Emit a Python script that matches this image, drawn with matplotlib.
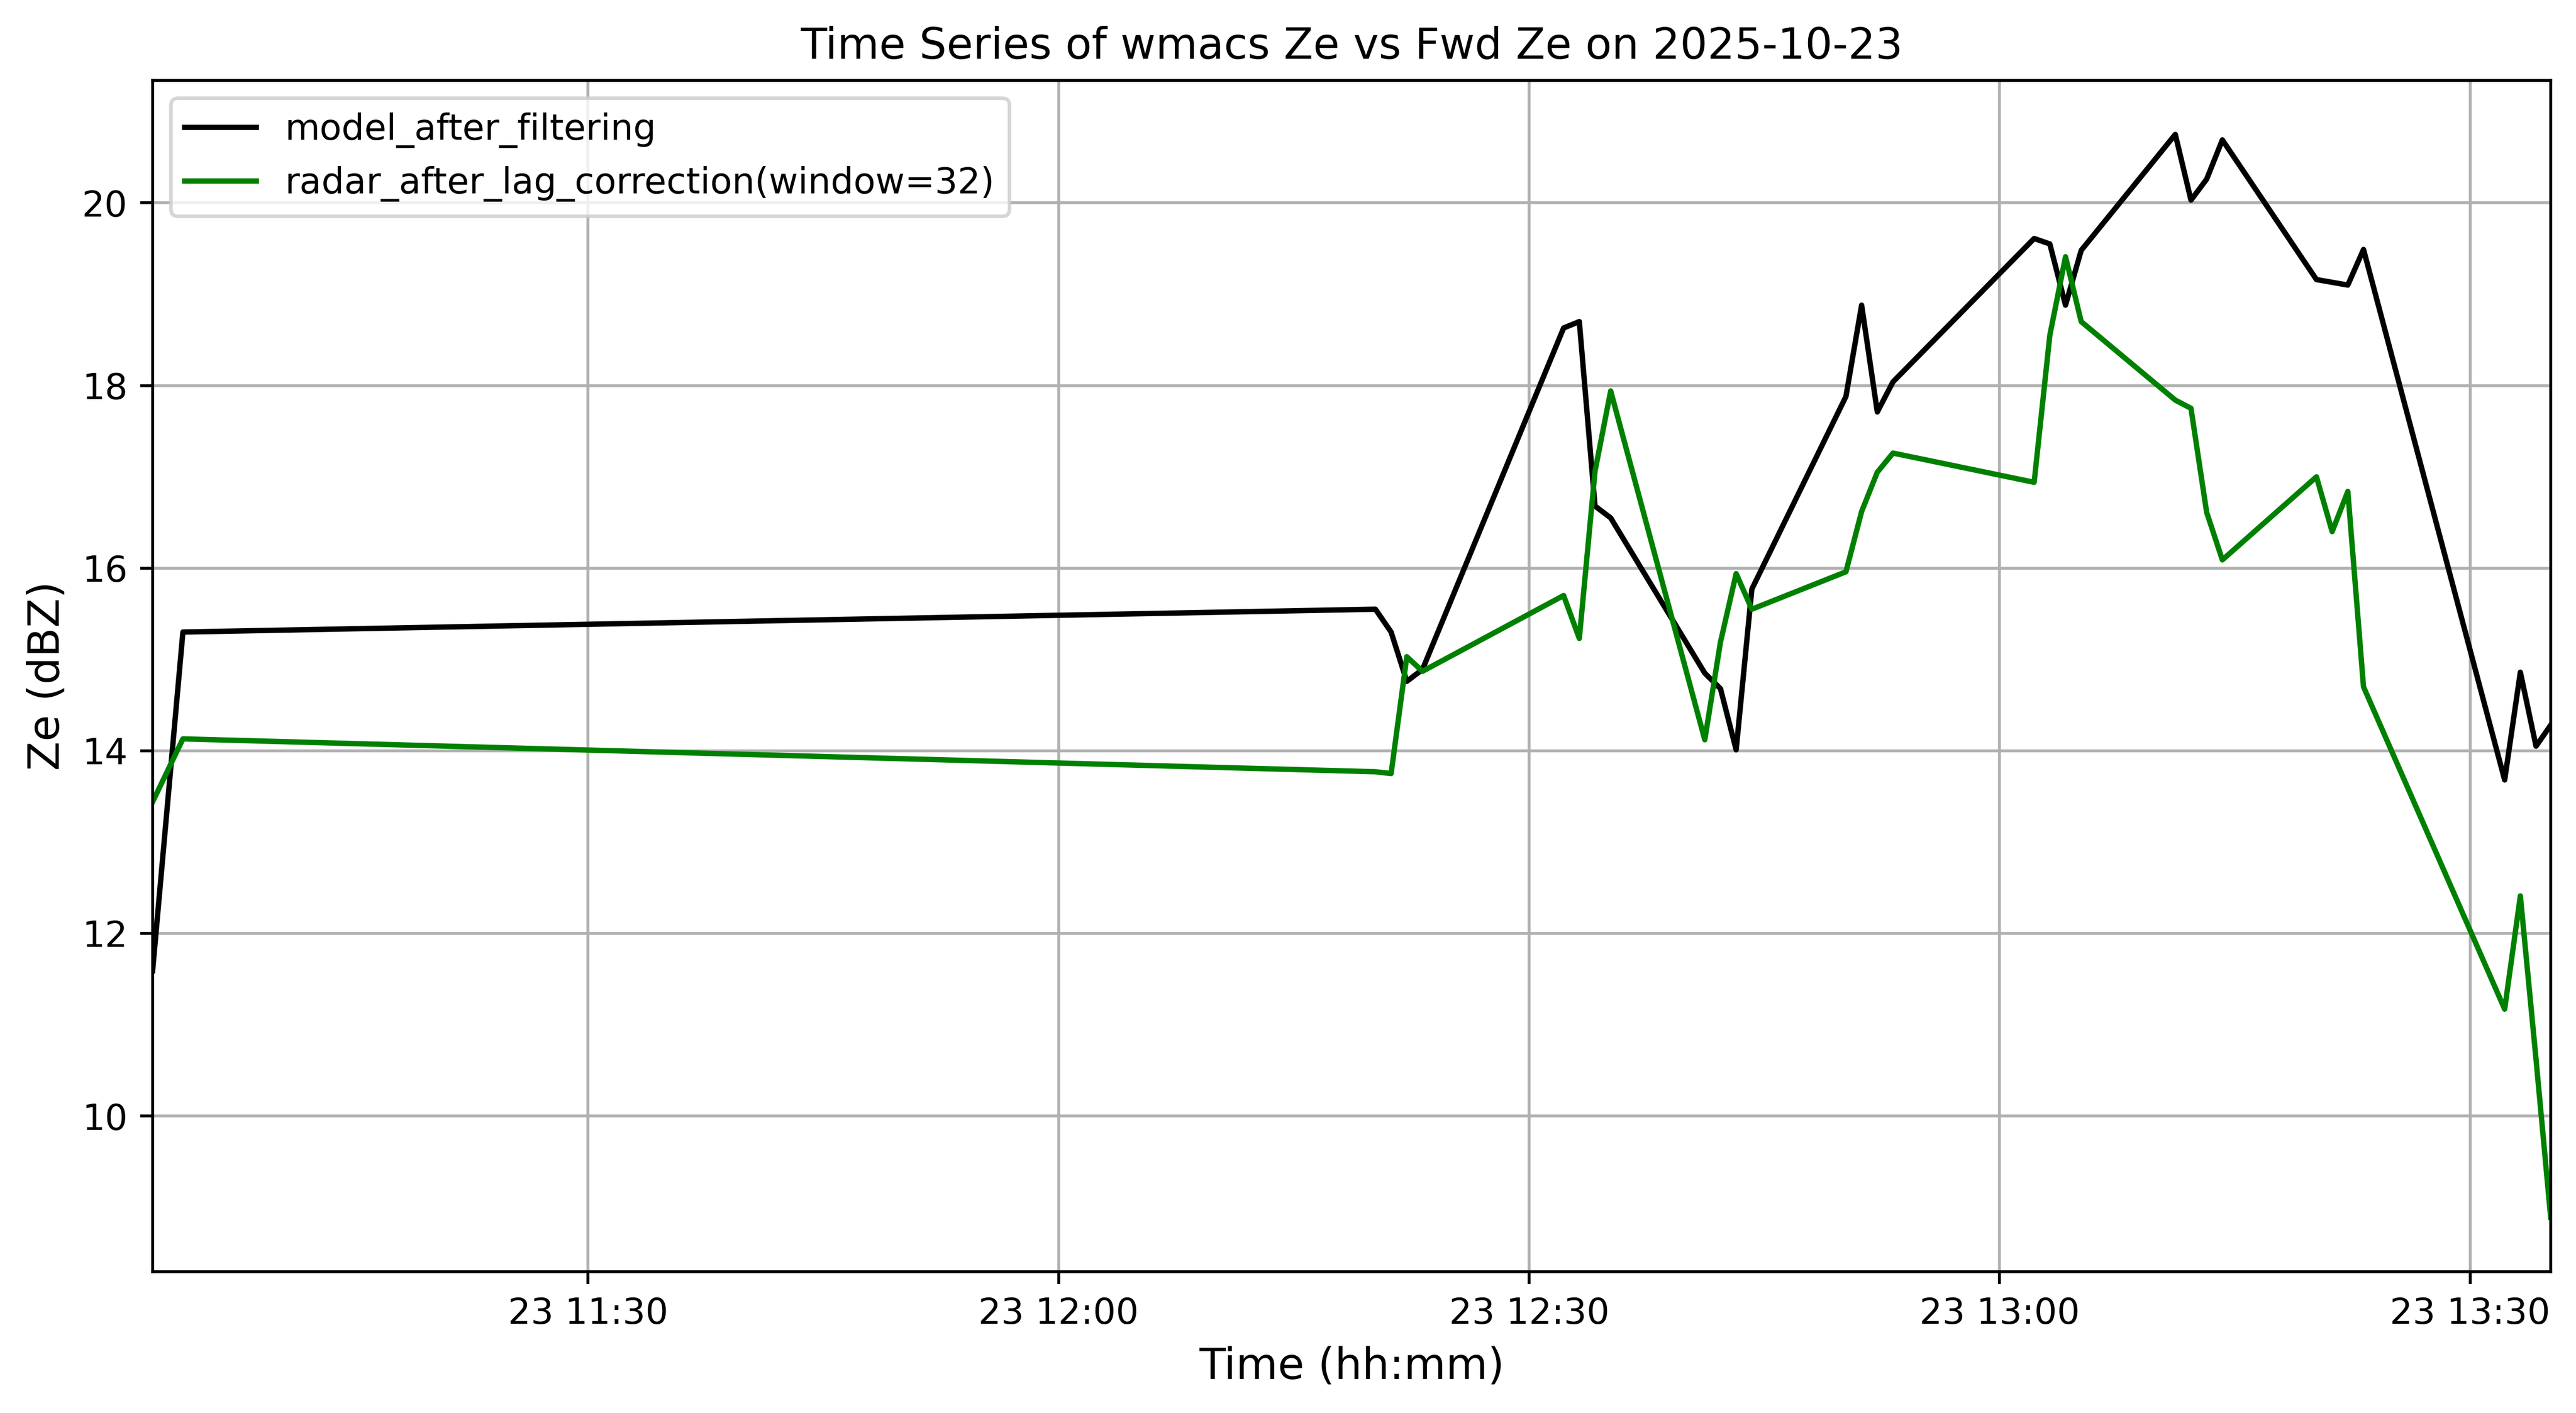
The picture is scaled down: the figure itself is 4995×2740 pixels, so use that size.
import numpy as np
import pandas as pd
import matplotlib
matplotlib.use('Agg')
import matplotlib.pyplot as plt

day = '2025-10-23'

# sample times (hh:mm:ss)
times = ['11:02:14', '11:04:10',
         '12:20:12', '12:21:12', '12:22:12', '12:23:12',
         '12:32:12', '12:33:12', '12:34:12', '12:35:12',
         '12:41:12', '12:42:12', '12:43:12', '12:44:12',
         '12:50:12', '12:51:12', '12:52:12', '12:53:12',
         '13:02:12', '13:03:12', '13:04:12', '13:05:12',
         '13:11:12', '13:12:12', '13:13:12', '13:14:12',
         '13:20:12', '13:21:12', '13:22:12', '13:23:12',
         '13:32:12', '13:33:12', '13:34:12', '13:35:08']

model_ze = [11.59, 15.30,
            15.55, 15.30, 14.76, 14.89,
            18.63, 18.70, 16.68, 16.55,
            14.85, 14.68, 14.01, 15.77,
            17.88, 18.88, 17.71, 18.04,
            19.61, 19.55, 18.88, 19.48,
            20.75, 20.03, 20.26, 20.69,
            19.16, 19.13, 19.10, 19.49,
            13.68, 14.86, 14.05, 14.28]

radar_ze = [13.44, 14.13,
            13.77, 13.75, 15.03, 14.87,
            15.70, 15.23, 17.06, 17.94,
            14.12, 15.19, 15.94, 15.55,
            15.96, 16.62, 17.05, 17.26,
            16.94, 18.55, 19.41, 18.70,
            17.84, 17.75, 16.61, 16.09,
            17.00, 16.40, 16.84, 14.70,
            11.17, 12.41, 10.62, 8.89]

t = pd.to_datetime([day + ' ' + s for s in times]).to_numpy()

fig, ax = plt.subplots(figsize=(12, 6))
ax.plot(t, model_ze, color='black', linewidth=1.5, label='model_after_filtering')
ax.plot(t, radar_ze, color='green', linewidth=1.5, label='radar_after_lag_correction(window=32)')
ax.set_xlim(t[0], t[-1])

ax.set_xlabel('Time (hh:mm)', fontsize=12)
ax.set_ylabel('Ze (dBZ)', fontsize=12)
ax.set_title('Time Series of wmacs Ze vs Fwd Ze on ' + day)
ax.grid(True)
ax.legend(loc='upper left')

plt.savefig('out.png', dpi=500, bbox_inches='tight')
